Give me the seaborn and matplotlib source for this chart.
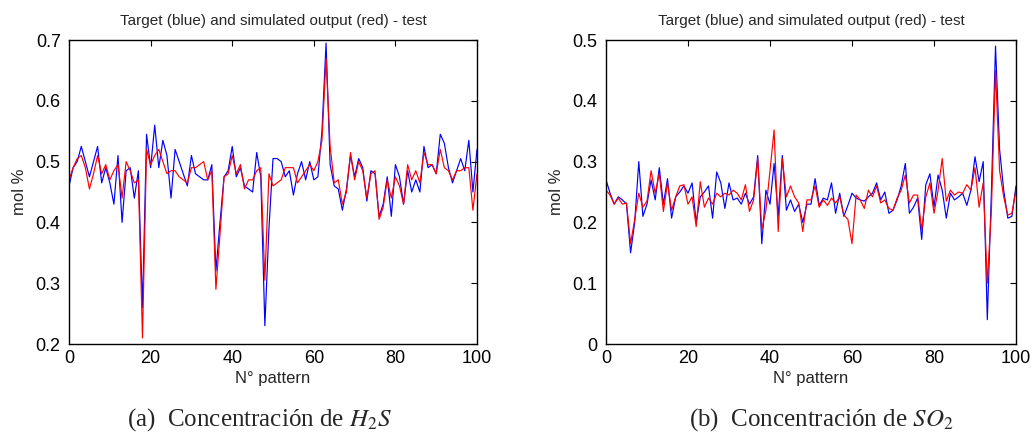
import numpy as np
import pandas as pd
import matplotlib
matplotlib.use("Agg")
import matplotlib.pyplot as plt
import seaborn as sns
from matplotlib.ticker import FuncFormatter

# ---------------- data ----------------
pattern = list(range(0, 101))

h2s_target = [0.46, 0.49, 0.50, 0.525, 0.50, 0.475, 0.50, 0.525, 0.465, 0.49,
              0.465, 0.43, 0.51, 0.40, 0.485, 0.49, 0.44, 0.485, 0.26, 0.545,
              0.49, 0.56, 0.49, 0.535, 0.51, 0.44, 0.52, 0.50, 0.48, 0.46,
              0.51, 0.48, 0.475, 0.47, 0.47, 0.495, 0.32, 0.40, 0.475, 0.485,
              0.525, 0.475, 0.49, 0.46, 0.455, 0.45, 0.515, 0.475, 0.23, 0.39,
              0.505, 0.505, 0.50, 0.475, 0.485, 0.445, 0.48, 0.50, 0.47, 0.50,
              0.47, 0.475, 0.55, 0.695, 0.495, 0.46, 0.455, 0.42, 0.455, 0.51,
              0.475, 0.505, 0.49, 0.435, 0.485, 0.48, 0.41, 0.43, 0.475, 0.41,
              0.495, 0.475, 0.43, 0.485, 0.45, 0.47, 0.45, 0.525, 0.49, 0.495,
              0.48, 0.545, 0.53, 0.49, 0.465, 0.485, 0.505, 0.485, 0.535, 0.45,
              0.52]
h2s_output = [0.47, 0.49, 0.505, 0.51, 0.49, 0.455, 0.48, 0.51, 0.48, 0.495,
              0.47, 0.485, 0.495, 0.44, 0.50, 0.485, 0.465, 0.47, 0.21, 0.52,
              0.495, 0.51, 0.52, 0.50, 0.48, 0.485, 0.485, 0.475, 0.47, 0.465,
              0.49, 0.49, 0.495, 0.50, 0.47, 0.485, 0.29, 0.38, 0.475, 0.48,
              0.51, 0.48, 0.495, 0.455, 0.47, 0.47, 0.485, 0.49, 0.305, 0.48,
              0.46, 0.465, 0.47, 0.49, 0.49, 0.49, 0.465, 0.475, 0.485, 0.495,
              0.485, 0.50, 0.535, 0.67, 0.525, 0.465, 0.47, 0.43, 0.45, 0.515,
              0.47, 0.50, 0.485, 0.44, 0.48, 0.485, 0.405, 0.425, 0.47, 0.44,
              0.475, 0.46, 0.43, 0.495, 0.47, 0.485, 0.465, 0.515, 0.495, 0.495,
              0.48, 0.52, 0.49, 0.485, 0.47, 0.485, 0.485, 0.49, 0.49, 0.42,
              0.48]

so2_target = [0.27, 0.248, 0.23, 0.242, 0.237, 0.23, 0.15, 0.20, 0.30, 0.21,
              0.23, 0.27, 0.237, 0.29, 0.23, 0.272, 0.207, 0.242, 0.25, 0.26,
              0.248, 0.265, 0.20, 0.242, 0.25, 0.26, 0.207, 0.283, 0.265, 0.223,
              0.265, 0.237, 0.24, 0.23, 0.248, 0.23, 0.242, 0.31, 0.165, 0.253,
              0.23, 0.297, 0.21, 0.31, 0.22, 0.237, 0.218, 0.23, 0.20, 0.23,
              0.23, 0.272, 0.228, 0.24, 0.237, 0.265, 0.215, 0.248, 0.21, 0.228,
              0.248, 0.24, 0.237, 0.235, 0.242, 0.248, 0.265, 0.237, 0.25, 0.215,
              0.22, 0.237, 0.26, 0.297, 0.215, 0.225, 0.24, 0.172, 0.262, 0.28,
              0.225, 0.278, 0.253, 0.207, 0.248, 0.237, 0.242, 0.248, 0.228, 0.253,
              0.308, 0.267, 0.30, 0.04, 0.25, 0.49, 0.32, 0.253, 0.207, 0.21,
              0.26]
so2_output = [0.253, 0.245, 0.23, 0.24, 0.23, 0.232, 0.165, 0.205, 0.248, 0.225,
              0.235, 0.285, 0.248, 0.28, 0.218, 0.265, 0.22, 0.242, 0.26, 0.262,
              0.23, 0.242, 0.193, 0.267, 0.225, 0.24, 0.23, 0.248, 0.242, 0.248,
              0.245, 0.253, 0.248, 0.237, 0.262, 0.218, 0.237, 0.305, 0.188, 0.22,
              0.285, 0.352, 0.185, 0.305, 0.242, 0.26, 0.242, 0.232, 0.185, 0.237,
              0.237, 0.26, 0.225, 0.237, 0.228, 0.24, 0.232, 0.242, 0.212, 0.205,
              0.165, 0.245, 0.237, 0.223, 0.253, 0.242, 0.26, 0.232, 0.237, 0.223,
              0.22, 0.24, 0.253, 0.278, 0.232, 0.245, 0.245, 0.188, 0.242, 0.265,
              0.215, 0.253, 0.305, 0.235, 0.253, 0.245, 0.25, 0.248, 0.262, 0.253,
              0.29, 0.225, 0.265, 0.10, 0.22, 0.45, 0.285, 0.242, 0.212, 0.215,
              0.253]

title_text = "Target (blue) and simulated output (red) - test"
xlabel_text = "N° pattern"
ylabel_text = "mol %"
captions = ["(a)  Concentración de $H_2S$", "(b)  Concentración de $SO_2$"]
h2s_yticks = [0.2, 0.3, 0.4, 0.5, 0.6, 0.7]
so2_yticks = [0, 0.1, 0.2, 0.3, 0.4, 0.5]
xticks = [0, 20, 40, 60, 80, 100]

# ---------------- style ----------------
sns.set_style("white")
plt.rcParams["font.family"] = ["Liberation Sans", "DejaVu Sans"]
plt.rcParams["mathtext.fontset"] = "stix"

fig = plt.figure(figsize=(10.32, 4.42), dpi=100)
ax1 = fig.add_axes([0.0669, 0.2217, 0.3953, 0.6878])
ax2 = fig.add_axes([0.5872, 0.2217, 0.3973, 0.6878])

panels = [
    (ax1, h2s_target, h2s_output, (0.2, 0.7), h2s_yticks, captions[0], 0.251),
    (ax2, so2_target, so2_output, (0.0, 0.5), so2_yticks, captions[1], 0.7955),
]

for ax, tgt, out, ylim, yt, cap, capx in panels:
    df = pd.DataFrame({"pattern": pattern * 2,
                       "value": tgt + out,
                       "series": ["target"] * len(tgt) + ["output"] * len(out)})
    sns.lineplot(data=df, x="pattern", y="value", hue="series",
                 palette={"target": "#0000ff", "output": "#ff0000"},
                 linewidth=0.85, legend=False, ax=ax, estimator=None)
    ax.set_xlim(0, 100)
    ax.set_ylim(*ylim)
    ax.set_xticks(xticks)
    ax.set_yticks(yt)
    ax.xaxis.set_major_formatter(FuncFormatter(lambda v, p: f"{v:g}"))
    ax.yaxis.set_major_formatter(FuncFormatter(lambda v, p: f"{v:g}"))
    ax.tick_params(direction="in", top=True, right=True, length=4, width=0.8,
                   labelsize=13, colors="black")
    ax.tick_params(axis="x", pad=4)
    ax.tick_params(axis="y", pad=6)
    for s in ax.spines.values():
        s.set_visible(True)
        s.set_color("black")
        s.set_linewidth(1.0)
    ax.set_title(title_text, fontsize=11, pad=11)
    ax.set_xlabel(xlabel_text, fontsize=12, labelpad=3)
    ax.set_ylabel(ylabel_text, fontsize=12, labelpad=6)
    fig.text(capx, 0.05, cap, ha="center", va="center",
             fontsize=18, family="Liberation Serif")

fig.savefig("out.png", dpi=100, facecolor="white")
